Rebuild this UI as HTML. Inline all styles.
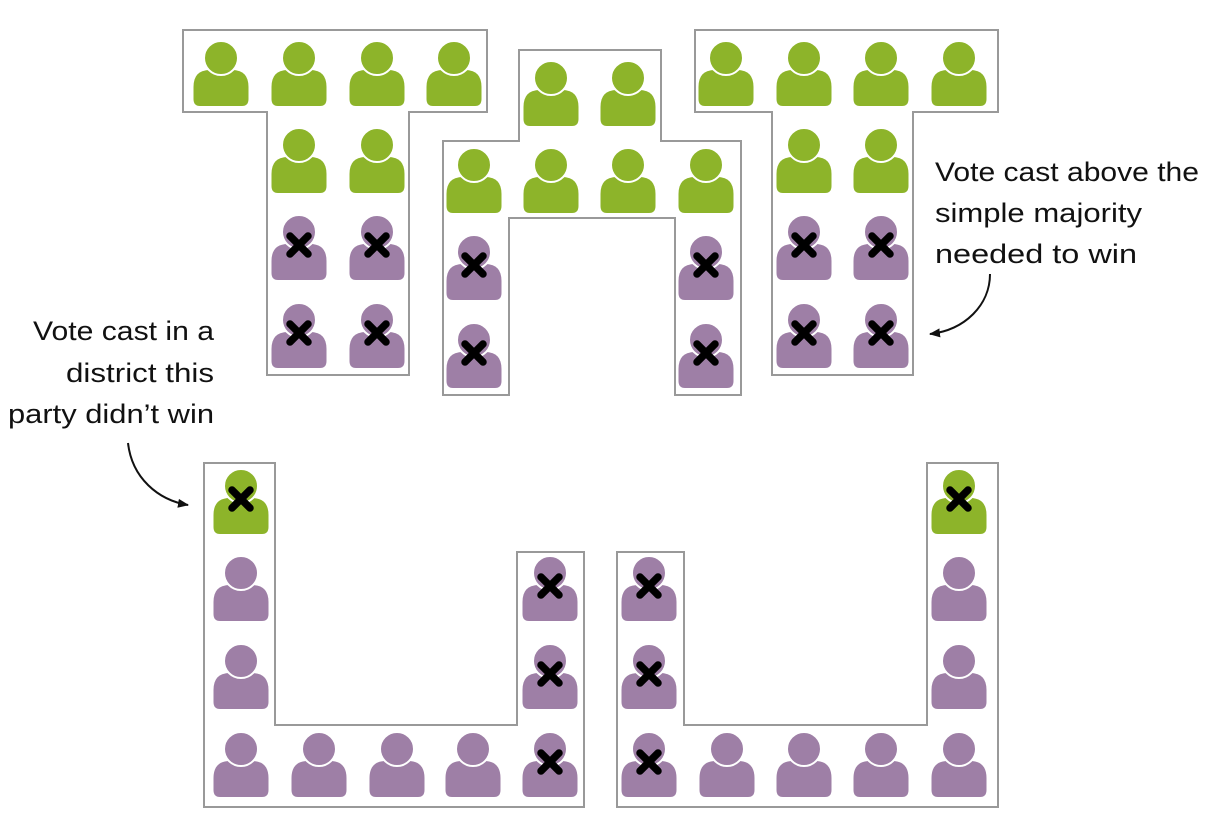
<!DOCTYPE html>
<html><head><meta charset="utf-8"><style>
html,body{margin:0;padding:0;background:#fff;}
svg{display:block;}
text{font-family:"Liberation Sans",sans-serif;font-size:27px;fill:#111;}
</style></head><body>
<svg width="1216" height="813" viewBox="0 0 1216 813" xmlns="http://www.w3.org/2000/svg">
<defs>
<g id="pg">
<path d="M-27.5,41 L-27.5,29 Q-27.5,12 -11,12 L11,12 Q27.5,12 27.5,29 L27.5,41 Q27.5,48 21,48 L-21,48 Q-27.5,48 -27.5,41 Z" fill="#8db42a"/>
<circle cx="0" cy="0" r="17" fill="#8db42a" stroke="#fff" stroke-width="2"/>
</g>
<g id="pp">
<path d="M-27.5,41 L-27.5,29 Q-27.5,12 -11,12 L11,12 Q27.5,12 27.5,29 L27.5,41 Q27.5,48 21,48 L-21,48 Q-27.5,48 -27.5,41 Z" fill="#9e7fa6"/>
<circle cx="0" cy="0" r="17" fill="#9e7fa6" stroke="#fff" stroke-width="2"/>
</g>
<g id="x"><path d="M-9,4 L9,22 M9,4 L-9,22" stroke="#000" stroke-width="7.5" stroke-linecap="round"/></g>
<marker id="ah" markerWidth="12" markerHeight="12" refX="10" refY="6" orient="auto" markerUnits="userSpaceOnUse"><path d="M0,1.5 L11,6 L0,10.5 Z" fill="#111"/></marker>
</defs>
<g fill="none" stroke="#999" stroke-width="2">
<path d="M183,30 H487 V112 H409 V375 H267 V112 H183 Z"/>
<path d="M519,50 H661 V141 H741 V395 H675 V218 H509 V395 H443 V141 H519 Z"/>
<path d="M695,30 H998 V112 H913 V375 H772 V112 H695 Z"/>
<path d="M204,463 H275 V725 H517 V552 H584 V807 H204 Z"/>
<path d="M617,552 H684 V725 H927 V463 H998 V807 H617 Z"/>
</g>
<use href="#pg" x="221" y="58"/><use href="#pg" x="299" y="58"/><use href="#pg" x="377" y="58"/><use href="#pg" x="454" y="58"/>
<use href="#pg" x="299" y="145"/><use href="#pg" x="377" y="145"/>
<use href="#pp" x="299" y="232"/><use href="#x" x="299" y="232"/><use href="#pp" x="377" y="232"/><use href="#x" x="377" y="232"/>
<use href="#pp" x="299" y="320"/><use href="#x" x="299" y="320"/><use href="#pp" x="377" y="320"/><use href="#x" x="377" y="320"/>
<use href="#pg" x="551" y="78"/><use href="#pg" x="628" y="78"/>
<use href="#pg" x="474" y="165"/><use href="#pg" x="551" y="165"/><use href="#pg" x="628" y="165"/><use href="#pg" x="706" y="165"/>
<use href="#pp" x="474" y="252"/><use href="#x" x="474" y="252"/><use href="#pp" x="706" y="252"/><use href="#x" x="706" y="252"/>
<use href="#pp" x="474" y="340"/><use href="#x" x="474" y="340"/><use href="#pp" x="706" y="340"/><use href="#x" x="706" y="340"/>
<use href="#pg" x="726" y="58"/><use href="#pg" x="804" y="58"/><use href="#pg" x="881" y="58"/><use href="#pg" x="959" y="58"/>
<use href="#pg" x="804" y="145"/><use href="#pg" x="881" y="145"/>
<use href="#pp" x="804" y="232"/><use href="#x" x="804" y="232"/><use href="#pp" x="881" y="232"/><use href="#x" x="881" y="232"/>
<use href="#pp" x="804" y="320"/><use href="#x" x="804" y="320"/><use href="#pp" x="881" y="320"/><use href="#x" x="881" y="320"/>
<use href="#pg" x="241" y="486"/><use href="#x" x="241" y="486"/>
<use href="#pp" x="241" y="573"/><use href="#pp" x="241" y="661"/>
<use href="#pp" x="241" y="749"/><use href="#pp" x="319" y="749"/><use href="#pp" x="397" y="749"/><use href="#pp" x="473" y="749"/>
<use href="#pp" x="550" y="749"/><use href="#x" x="550" y="749"/>
<use href="#pp" x="550" y="573"/><use href="#x" x="550" y="573"/>
<use href="#pp" x="550" y="661"/><use href="#x" x="550" y="661"/>
<use href="#pp" x="649" y="573"/><use href="#x" x="649" y="573"/>
<use href="#pp" x="649" y="661"/><use href="#x" x="649" y="661"/>
<use href="#pp" x="649" y="749"/><use href="#x" x="649" y="749"/>
<use href="#pp" x="727" y="749"/><use href="#pp" x="804" y="749"/><use href="#pp" x="881" y="749"/>
<use href="#pg" x="959" y="486"/><use href="#x" x="959" y="486"/>
<use href="#pp" x="959" y="573"/><use href="#pp" x="959" y="661"/><use href="#pp" x="959" y="749"/>
<text x="935" y="181" textLength="264" lengthAdjust="spacingAndGlyphs">Vote cast above the</text>
<text x="935" y="222" textLength="207" lengthAdjust="spacingAndGlyphs">simple majority</text>
<text x="935" y="263" textLength="202" lengthAdjust="spacingAndGlyphs">needed to win</text>
<text x="214" y="340" text-anchor="end" textLength="181" lengthAdjust="spacingAndGlyphs">Vote cast in a</text>
<text x="214" y="382" text-anchor="end" textLength="148" lengthAdjust="spacingAndGlyphs">district this</text>
<text x="214" y="423" text-anchor="end" textLength="206" lengthAdjust="spacingAndGlyphs">party didn’t win</text>
<path d="M990,274 C990,305 965,330 930,334" fill="none" stroke="#111" stroke-width="2" marker-end="url(#ah)"/>
<path d="M128,443 C132,478 158,500 188,505" fill="none" stroke="#111" stroke-width="2" marker-end="url(#ah)"/>
</svg>
</body></html>
